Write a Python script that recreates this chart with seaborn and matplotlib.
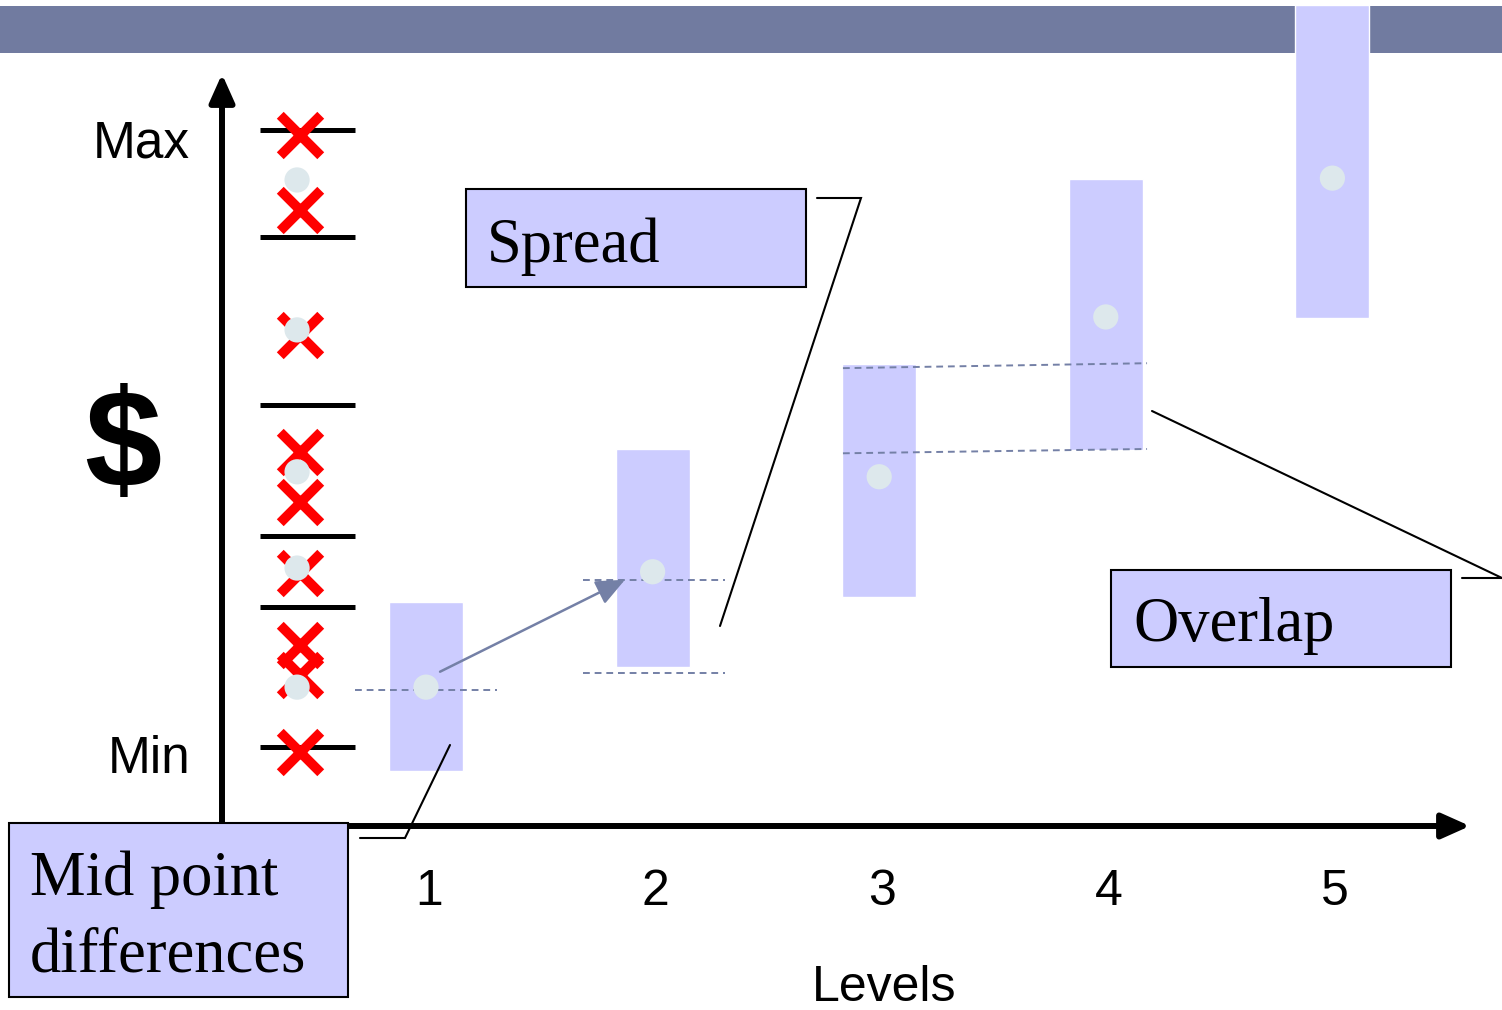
import matplotlib
matplotlib.use("Agg")
import matplotlib.pyplot as plt
import matplotlib.transforms as mtransforms
from matplotlib.patches import Rectangle
import seaborn as sns
import pandas as pd

# ---- data ----
levels = [1, 2, 3, 4, 5]
level_low = [-3.9, 13.0, 24.3, 48.1, 69.5]
level_high = [23.5, 48.3, 62.1, 92.1, 120.3]
level_mid = [9.7, 28.4, 43.8, 69.7, 92.2]
level_labels = ["1", "2", "3", "4", "5"]

# raw salaries column on the left of the levels
raw_x_values = [99.2, 87.0, 66.8, 47.8, 39.7, 28.2, 16.5, 11.7, -0.8]
raw_dot_values = [91.9, 67.6, 44.6, 29.0, 9.7]
range_lines = [100, 82.7, 55.4, 34.2, 22.7, 0]

# dashed guides (y start, y end) and their level spans
guide_y0 = [9.2, 27.1, 12.0, 61.4, 47.6]
guide_y1 = [9.2, 27.1, 12.0, 62.2, 48.3]
guide_x0 = [0.687, 1.693, 1.693, 2.840, 2.840]
guide_x1 = [1.313, 2.320, 2.320, 4.182, 4.182]

W, H = 1502, 1010
BOX = "#CCCCFF"
DOT = "#DDE8EC"
SLATE = "#717BA0"
GUIDE = "#7480A6"

sns.set_theme(style="white")
plt.rcParams["font.family"] = ["Liberation Sans", "DejaVu Sans"]
plt.rcParams["text.color"] = "black"

fig = plt.figure(figsize=(W / 100, H / 100), dpi=100)
ax = fig.add_axes([0, 0, 1, 1])
ax.set_xlim(-0.880, 5.7485)
ax.set_ylim(-42.63, 121.07)
ax.axis("off")

# pixel transform (origin top-left) for layout pieces
pix = mtransforms.Affine2D().scale(1 / W, -1 / H).translate(0, 1) + fig.transFigure

# header band
ax.add_patch(Rectangle((0, 6), W, 47, transform=pix, facecolor=SLATE,
                       edgecolor="none", zorder=1))

# level ranges
heights = [h - l for h, l in zip(level_high, level_low)]
ax.bar(levels, heights, bottom=level_low, width=0.327, color=BOX, zorder=2)
df_mid = pd.DataFrame({"level": levels, "mid": level_mid})
sns.scatterplot(data=df_mid, x="level", y="mid", s=330, color=DOT,
                edgecolor="none", ax=ax, zorder=4)

# raw column
ax.hlines(range_lines, 0.267, 0.687, color="black", lw=3.6, zorder=3)
df_x = pd.DataFrame({"x": [0.444] * len(raw_x_values), "y": raw_x_values})
sns.scatterplot(data=df_x, x="x", y="y", marker="x", s=850, color="red",
                linewidth=7, ax=ax, zorder=3)
df_d = pd.DataFrame({"x": [0.431] * len(raw_dot_values), "y": raw_dot_values})
sns.scatterplot(data=df_d, x="x", y="y", s=330, color=DOT,
                edgecolor="none", ax=ax, zorder=4)

# dashed guides
for x0, x1, y0, y1 in zip(guide_x0, guide_x1, guide_y0, guide_y1):
    ax.plot([x0, x1], [y0, y1], color=GUIDE, lw=1.4, ls=(0, (3.5, 2.5)), zorder=3)

# mid point difference arrow
ax.annotate("", xy=(1.878, 27.1), xytext=(1.062, 12.2),
            arrowprops=dict(arrowstyle="-|>,head_length=0.8,head_width=0.35",
                            color=GUIDE, lw=1.8, mutation_scale=22,
                            shrinkA=0, shrinkB=0), zorder=5)

# axes arrows
arrow_kw = dict(arrowstyle="-|>,head_length=0.85,head_width=0.38",
                color="black", lw=4.3, mutation_scale=20, shrinkA=0, shrinkB=0)
ax.annotate("", xy=(222, 74), xytext=(222, 826), xycoords=pix,
            textcoords=pix, arrowprops=arrow_kw, zorder=6)
ax.annotate("", xy=(1470, 826), xytext=(219, 826), xycoords=pix,
            textcoords=pix, arrowprops=arrow_kw, zorder=6)

# axis texts
ax.text(190, 157, "Max", transform=pix, ha="right", va="baseline", fontsize=37)
ax.text(190, 773, "Min", transform=pix, ha="right", va="baseline", fontsize=37)
ax.text(123, 451, "$", transform=pix, ha="center", va="center",
        fontsize=100, fontweight="bold")
for lv, lab in zip(levels, level_labels):
    ax.text(lv + 0.012, -25.6, lab, ha="center", va="baseline", fontsize=36)
ax.text(884, 1001, "Levels", transform=pix, ha="center", va="baseline", fontsize=36)

# callout boxes
serif = ["Liberation Serif", "DejaVu Serif"]
for (x, y, w, h) in [(466, 189, 340, 98), (1111, 570, 340, 97), (9, 823, 339, 174)]:
    ax.add_patch(Rectangle((x, y), w, h, transform=pix, facecolor=BOX,
                           edgecolor="black", lw=1.5, zorder=7))
ax.text(487, 262, "Spread", transform=pix, va="baseline", fontsize=45,
        family=serif, zorder=8)
ax.text(1133, 641, "Overlap", transform=pix, va="baseline", fontsize=45,
        family=serif, zorder=8)
ax.text(30, 895, "Mid point", transform=pix, va="baseline", fontsize=45,
        family=serif, zorder=8)
ax.text(30, 972, "differences", transform=pix, va="baseline", fontsize=45,
        family=serif, zorder=8)

# callout leader lines
for xs, ys in [([817, 861, 720], [198, 198, 626]),
               ([1152, 1502, 1462], [411, 578, 578]),
               ([450, 405, 360], [745, 838, 838])]:
    ax.plot(xs, ys, transform=pix, color="black", lw=1.5, zorder=6,
            solid_joinstyle="miter")

fig.savefig("out.png", dpi=100)
